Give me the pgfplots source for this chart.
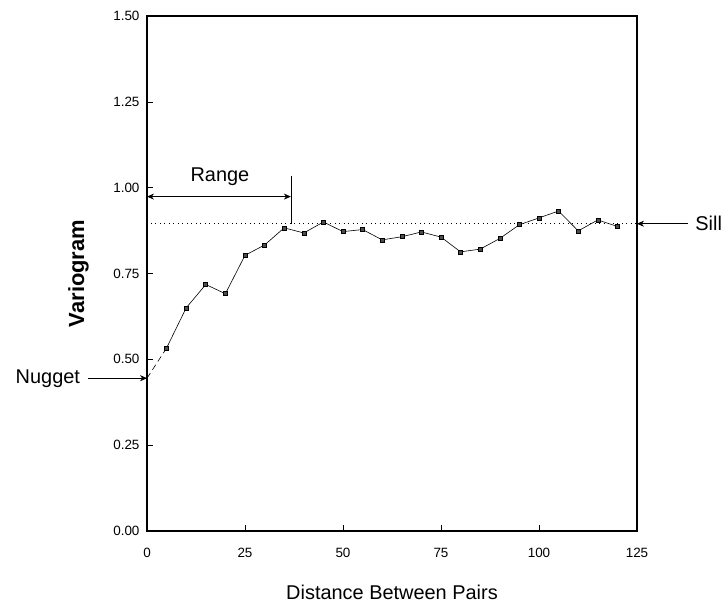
\documentclass[border=0pt]{standalone}
\usepackage{fontspec}
\setmainfont{Liberation Sans}
\usepackage{pgfplots}
\pgfplotsset{compat=1.18}
\usetikzlibrary{arrows.meta}
\begin{document}
\begin{tikzpicture}
\useasboundingbox (-147bp,-71bp) rectangle (579bp,531bp);
\begin{axis}[
  at={(0,0)}, anchor=south west,
  width=490bp, height=515bp, scale only axis,
  xmin=0, xmax=125, ymin=0, ymax=1.5,
  xtick={0,25,50,75,100,125},
  ytick={0,0.25,0.5,0.75,1,1.25,1.5},
  xtick pos=left, ytick pos=left, tick align=inside,
  major tick length=6bp,
  axis line style={line width=1.6pt},
  tick style={black, line width=0.6pt},
  /pgf/number format/assume math mode=true,
  yticklabel style={/pgf/number format/fixed, /pgf/number format/fixed zerofill, /pgf/number format/precision=2, font=\fontsize{13.5}{15}\selectfont, xshift=-4bp},
  xticklabel style={font=\fontsize{13.5}{15}\selectfont, yshift=-14bp},
  xlabel={Distance Between Pairs},
  ylabel={\bfseries Variogram},
  xlabel style={font=\fontsize{20}{22}\selectfont, at={(axis description cs:0.5,0)}, anchor=center, yshift=-61bp},
  ylabel style={font=\fontsize{22}{24}\selectfont, at={(axis description cs:-0.14,0.5)}, anchor=center},
  clip=false,
]
% nugget dashed segment
\addplot[black, line width=0.6pt, dashed, dash pattern=on 6pt off 4pt] coordinates {(0,0.445) (5,0.533)};
% sill dotted line
\addplot[black, line width=0.7pt, dash pattern=on 1pt off 3.5pt] coordinates {(1,0.895) (125,0.895)};
% experimental variogram
\addplot[black, line width=0.6pt, mark=square*, mark size=2bp, mark options={fill=black!70, draw=black, solid}] coordinates {
(5,0.533) (10,0.650) (15,0.718) (20,0.691) (25,0.803) (30,0.833) (35,0.883)
(40,0.868) (45,0.900) (50,0.872) (55,0.878) (60,0.848) (65,0.857) (70,0.871)
(75,0.856) (80,0.813) (85,0.821) (90,0.852) (95,0.892) (100,0.912) (105,0.932)
(110,0.874) (115,0.906) (120,0.887)};
% Range annotation
\draw[line width=0.6pt, {Stealth[length=7bp,width=6bp]}-{Stealth[length=7bp,width=6bp]}] (axis cs:0,0.974) -- (axis cs:36.7,0.974);
\draw[line width=0.6pt] (axis cs:36.7,1.035) -- (axis cs:36.7,0.895);
\node[font=\fontsize{20}{22}\selectfont] at (axis cs:18.6,1.032) {Range};
% Nugget annotation
\draw[line width=0.6pt, -{Stealth[length=7bp,width=6bp]}] (axis cs:-15,0.445) -- (axis cs:0,0.445);
\node[font=\fontsize{20}{22}\selectfont, anchor=east] at (axis cs:-16.2,0.445) {Nugget};
% Sill annotation
\draw[line width=0.6pt, -{Stealth[length=7bp,width=6bp]}] (axis cs:138,0.895) -- (axis cs:125,0.895);
\node[font=\fontsize{20}{22}\selectfont, anchor=west] at (axis cs:139,0.895) {Sill};
\end{axis}
\end{tikzpicture}
\end{document}
